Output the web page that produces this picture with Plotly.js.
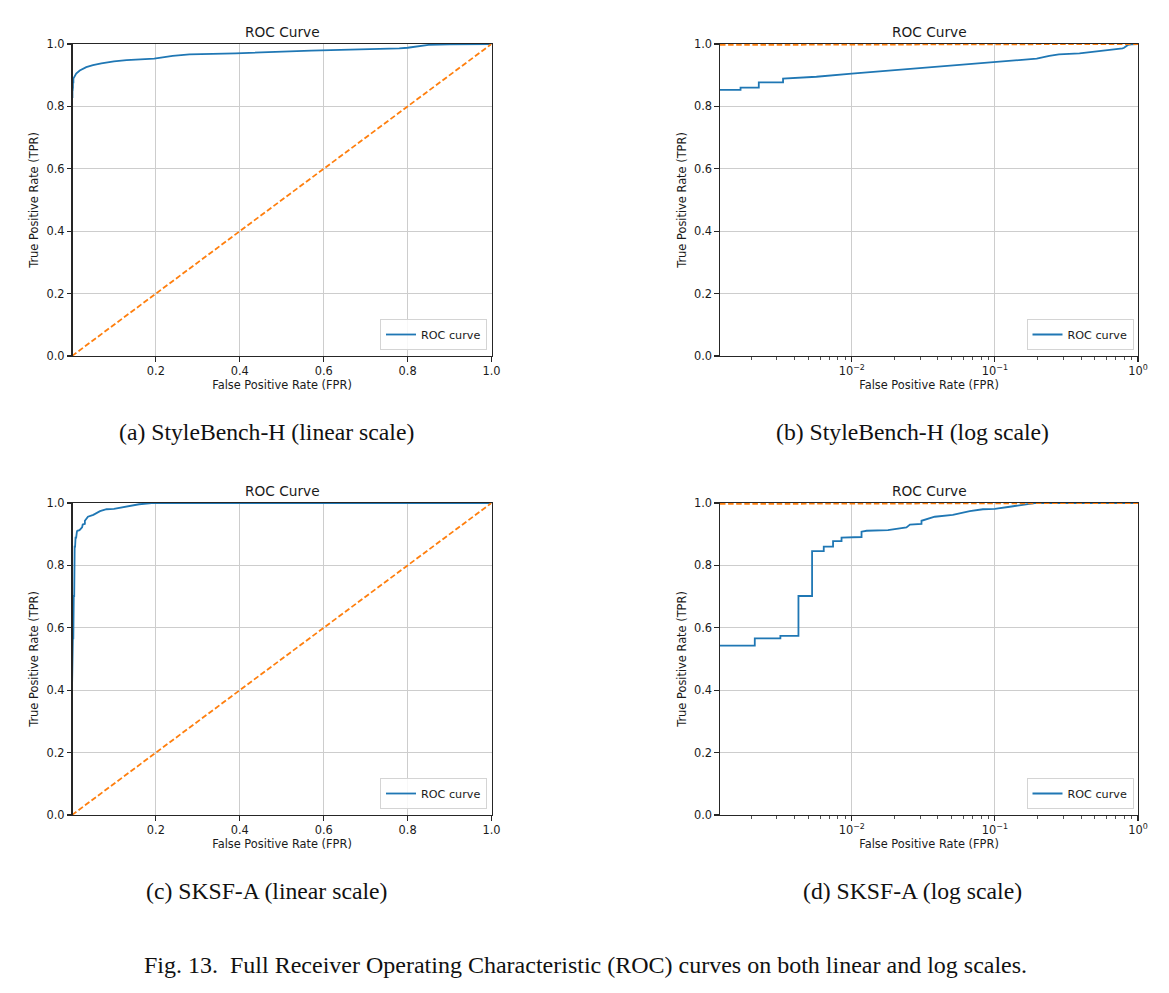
<!DOCTYPE html>
<html>
<head>
<meta charset="utf-8">
<script src="https://cdn.plot.ly/plotly-3.0.1.min.js"></script>
<style>
  html, body { margin: 0; padding: 0; background: #ffffff; }
  #fig { width: 1169px; height: 993px; }
</style>
</head>
<body>
<div id="fig"></div>
<script>
// ROC points for StyleBench-H (false positive rate, true positive rate)
const fprStyleBench = [0, 0.00106, 0.00106, 0.00167, 0.00167, 0.00224, 0.00224, 0.00331, 0.00331,
  0.00566, 0.01, 0.0185, 0.0255, 0.034, 0.05, 0.07, 0.1, 0.13, 0.196, 0.24, 0.28, 0.39, 0.57, 0.69,
  0.78, 0.80, 0.82, 0.85, 0.90, 0.95, 1.0];
const tprStyleBench = [0.83, 0.83, 0.853, 0.853, 0.860, 0.860, 0.877, 0.877, 0.889,
  0.895, 0.905, 0.915, 0.921, 0.926, 0.932, 0.938, 0.944, 0.948, 0.953, 0.962, 0.967, 0.970, 0.979, 0.982,
  0.986, 0.988, 0.992, 0.997, 0.999, 1.0, 1.0];

// ROC points for SKSF-A
const fprSKSF = [0, 0.00106, 0.0021, 0.0021, 0.00317, 0.00317, 0.00424, 0.00424, 0.00528, 0.00528,
  0.00637, 0.00637, 0.0074, 0.0074, 0.00848, 0.00848, 0.00995, 0.00995, 0.0117, 0.0117, 0.0127, 0.0179,
  0.0241, 0.0255, 0.0307, 0.0307, 0.038, 0.0508, 0.0668, 0.0824, 0.1, 0.127, 0.16, 0.19, 1.0];
const tprSKSF = [0.40, 0.543, 0.543, 0.566, 0.566, 0.574, 0.574, 0.702, 0.702, 0.846,
  0.846, 0.860, 0.860, 0.878, 0.878, 0.889, 0.889, 0.891, 0.891, 0.908, 0.911, 0.913,
  0.922, 0.931, 0.933, 0.943, 0.956, 0.962, 0.974, 0.980, 0.981, 0.988, 0.996, 1.0, 1.0];

// Chance diagonal
const chanceX = [0, 1];
const chanceY = [0, 1];

// Axis ticks
const fprFloor = 0.0012;
const linTickVals = [0.2, 0.4, 0.6, 0.8, 1.0];
const linTickText = ['0.2', '0.4', '0.6', '0.8', '1.0'];
const tprTickVals = [0, 0.2, 0.4, 0.6, 0.8, 1.0];
const tprTickText = ['0.0', '0.2', '0.4', '0.6', '0.8', '1.0'];
const logTickVals = [0.01, 0.1, 1];
const logTickText = ['10<sup>\u22122</sup>', '10<sup>\u22121</sup>', '10<sup>0</sup>'];

// Panel texts
const panelTitle = 'ROC Curve';
const xTitle = 'False Positive Rate (FPR)';
const yTitle = 'True Positive Rate (TPR)';
const seriesName = 'ROC curve';
const subCaptions = ['(a) StyleBench-H (linear scale)', '(b) StyleBench-H (log scale)',
  '(c) SKSF-A (linear scale)', '(d) SKSF-A (log scale)'];
const figCaption = 'Fig. 13.\u00a0 Full Receiver Operating Characteristic (ROC) curves on both linear and log scales.';

const W = 1169, H = 993;
const fx = v => v / W;
const fy = v => 1 - v / H;

// Panel boxes in page pixels: [left, right, top, bottom]
const boxes = [
  [72.5, 491.5, 44, 356],
  [720, 1138, 44, 356],
  [72.5, 491.5, 503, 815],
  [720, 1138, 503, 815]
];
const isLog = [false, true, false, true];
const datasets = [
  [fprStyleBench, tprStyleBench], [fprStyleBench, tprStyleBench],
  [fprSKSF, tprSKSF], [fprSKSF, tprSKSF]
];

// On a log axis a zero FPR is pushed to 10^-1000, the way matplotlib clips it;
// the segment is then cut at the left edge of the visible range.
function clipForLog(xs, ys, lo) {
  const L = Math.log10(lo);
  const ox = [], oy = [];
  for (let i = 0; i < xs.length; i++) {
    if (xs[i] > 0) { ox.push(xs[i]); oy.push(ys[i]); continue; }
    const j = i + 1;
    if (j < xs.length && xs[j] > 0) {
      const a = -1000, b = Math.log10(xs[j]);
      const t = (L - a) / (b - a);
      ox.push(lo); oy.push(ys[i] + (ys[j] - ys[i]) * t);
    }
  }
  return [ox, oy];
}

const font = 'DejaVu Sans, sans-serif';
const serif = 'Liberation Serif, serif';
const ink = '#1a1a1a';
const traces = [];
const layout = {
  width: W, height: H,
  margin: {l: 0, r: 0, t: 0, b: 0},
  paper_bgcolor: '#ffffff',
  plot_bgcolor: '#ffffff',
  font: {family: font, size: 11.4, color: ink},
  annotations: [],
  showlegend: true
};

const minorLog = [];
for (let e = -3; e <= -1; e++) {
  for (let d = 2; d <= 9; d++) {
    const v = d * Math.pow(10, e);
    if (v > fprFloor) minorLog.push(v);
  }
}

boxes.forEach((b, k) => {
  const n = k + 1;
  const xa = n === 1 ? 'x' : 'x' + n;
  const ya = n === 1 ? 'y' : 'y' + n;
  const xKey = n === 1 ? 'xaxis' : 'xaxis' + n;
  const yKey = n === 1 ? 'yaxis' : 'yaxis' + n;
  const legKey = n === 1 ? 'legend' : 'legend' + n;

  let cx = chanceX, cy = chanceY;
  let rx = datasets[k][0], ry = datasets[k][1];
  if (isLog[k]) {
    [cx, cy] = clipForLog(chanceX, chanceY, fprFloor);
    [rx, ry] = clipForLog(rx, ry, fprFloor);
  }

  traces.push({
    x: rx, y: ry, xaxis: xa, yaxis: ya,
    type: 'scatter', mode: 'lines', name: seriesName,
    line: {color: '#1f77b4', width: 1.8},
    legend: legKey, showlegend: true, hoverinfo: 'skip'
  });
  traces.push({
    x: cx, y: cy, xaxis: xa, yaxis: ya,
    type: 'scatter', mode: 'lines', name: 'chance',
    line: {color: '#ff7f0e', width: 1.8, dash: '5.5px,2.6px'},
    legend: legKey, showlegend: false, hoverinfo: 'skip'
  });

  const common = {
    showline: true, mirror: true, linecolor: '#262626', linewidth: 1.1,
    ticks: 'outside', ticklen: 4.5, tickwidth: 1.1, tickcolor: '#262626',
    showgrid: true, gridcolor: '#cdcdcd', gridwidth: 1,
    zeroline: false, automargin: false, layer: 'above traces',
    tickfont: {family: font, size: 11.4, color: ink}
  };

  layout[xKey] = Object.assign({}, common, {
    domain: [fx(b[0]), fx(b[1])],
    anchor: ya,
    title: {text: xTitle, font: {family: font, size: 11.4, color: ink}, standoff: 3},
    tickmode: 'array'
  });
  if (isLog[k]) {
    Object.assign(layout[xKey], {
      type: 'log', range: [Math.log10(fprFloor), 0],
      tickvals: logTickVals, ticktext: logTickText,
      minor: {ticks: 'outside', ticklen: 2.5, tickwidth: 0.8, tickcolor: '#262626',
              tickmode: 'array', tickvals: minorLog, showgrid: false}
    });
  } else {
    Object.assign(layout[xKey], {
      type: 'linear', range: [fprFloor, 1],
      tickvals: linTickVals, ticktext: linTickText
    });
  }

  layout[yKey] = Object.assign({}, common, {
    domain: [fy(b[3]), fy(b[2])],
    anchor: xa,
    type: 'linear', range: [0, 1],
    tickmode: 'array', tickvals: tprTickVals, ticktext: tprTickText,
    title: {text: yTitle, font: {family: font, size: 11.4, color: ink}, standoff: 5}
  });

  layout[legKey] = {
    x: fx(b[1] - 4.5), xanchor: 'right',
    y: fy(b[3] - 6), yanchor: 'bottom',
    bgcolor: 'rgba(255,255,255,0.85)',
    bordercolor: '#d4d4d4', borderwidth: 1,
    font: {family: font, size: 11.2, color: ink}
  };

  // Panel heading
  layout.annotations.push({
    text: panelTitle, showarrow: false,
    xref: xa + ' domain', yref: ya + ' domain', x: 0.5, y: 1,
    xanchor: 'center', yanchor: 'bottom', yshift: 2,
    font: {family: font, size: 13.7, color: ink}
  });

  // Sub-figure caption
  layout.annotations.push({
    text: subCaptions[k], showarrow: false,
    xref: 'paper', yref: 'paper',
    x: fx(k % 2 === 0 ? 266 : 912.5), y: fy(k < 2 ? 432 : 891),
    xanchor: 'center', yanchor: 'middle',
    font: {family: serif, size: 23.7, color: '#111111'}
  });
});

layout.annotations.push({
  text: figCaption, showarrow: false,
  xref: 'paper', yref: 'paper', x: fx(585), y: fy(965),
  xanchor: 'center', yanchor: 'middle',
  font: {family: serif, size: 24, color: '#111111'}
});

Plotly.newPlot('fig', traces, layout, {staticPlot: true, displayModeBar: false});
</script>
</body>
</html>
